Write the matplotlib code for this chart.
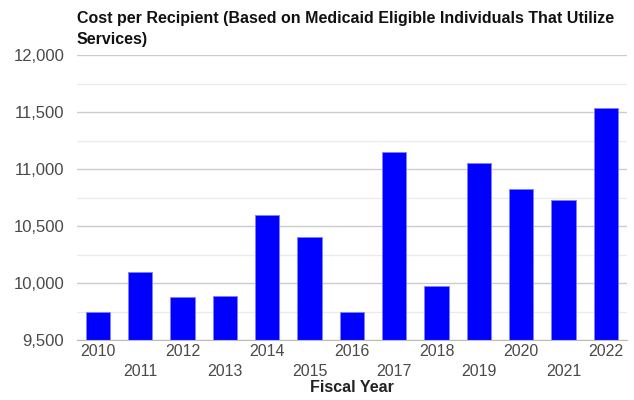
import matplotlib.pyplot as plt
import numpy as np

plt.rcParams['font.family'] = ['Liberation Sans', 'DejaVu Sans']

# Cost per recipient by fiscal year
years = ['2010', '2011', '2012', '2013', '2014', '2015', '2016',
         '2017', '2018', '2019', '2020', '2021', '2022']
cost = [9746, 10093, 9874, 9883, 10596, 10406, 9748,
        11146, 9974, 11055, 10825, 10725, 11532]

fig = plt.figure(figsize=(6.34, 4.0), dpi=100)
ax = fig.add_axes([0.121, 0.15, 0.868, 0.7125])

x = np.arange(len(years))
ax.bar(x, cost, width=0.57, color='#0000ff', edgecolor='#8080ff',
       linewidth=0.6, zorder=3)

ax.set_ylim(9500, 12000)
ax.set_xlim(-0.5, len(years) - 0.5)
ax.set_yticks(np.arange(9500, 12001, 500))
ax.set_yticks(np.arange(9750, 12000, 500), minor=True)
ax.yaxis.set_major_formatter(plt.FuncFormatter(lambda v, _: f'{int(v):,}'))
ax.grid(axis='y', which='major', color='#cccccc', linewidth=1, zorder=0)
ax.grid(axis='y', which='minor', color='#ebebeb', linewidth=1, zorder=0)
ax.tick_params(axis='y', which='both', length=0, labelsize=12,
               labelcolor='#4a4a4a', pad=9)

# staggered year labels
labels = [y if i % 2 == 0 else '\n' + y for i, y in enumerate(years)]
ax.set_xticks(x)
ax.set_xticklabels(labels, fontsize=11.5, color='#4a4a4a', linespacing=1.4)
ax.tick_params(axis='x', length=0, pad=3)

for side in ['top', 'right', 'left']:
    ax.spines[side].set_visible(False)
ax.spines['bottom'].set_color('#bbbbbb')
ax.spines['bottom'].set_zorder(4)

ax.set_xlabel('Fiscal Year', fontsize=11.5, fontweight='bold',
              color='#222222', labelpad=1)

fig.text(0.121, 0.972,
         'Cost per Recipient (Based on Medicaid Eligible Individuals That Utilize\nServices)',
         fontsize=11.5, fontweight='bold', color='#111111', ha='left', va='top',
         linespacing=1.45)

fig.savefig('out.png', dpi=100)
